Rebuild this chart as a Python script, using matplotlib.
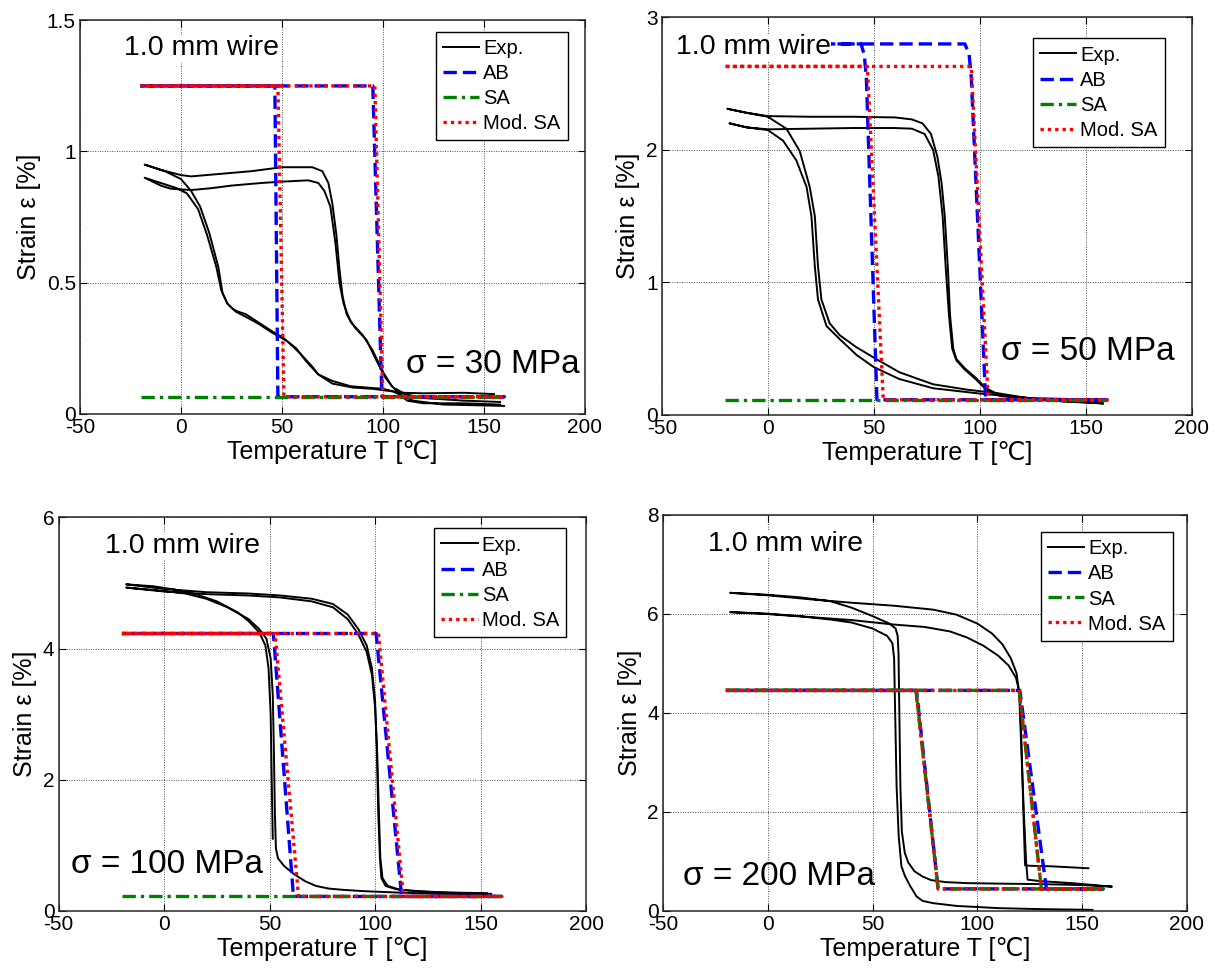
import matplotlib
matplotlib.use("Agg")
import matplotlib.pyplot as plt

plt.rcParams['font.family'] = ['Liberation Sans', 'DejaVu Sans']

# ---------------- sigma = 30 MPa ----------------
t30_ab = [-20, 95, 99.5, 160, 48, 46.5, -20]
e30_ab = [1.25, 1.25, 0.065, 0.065, 0.065, 1.25, 1.25]
t30_sa = [-20, 160]
e30_sa = [0.065, 0.065]
t30_msa = [-20, 96, 100, 160, 51, 48, -20]
e30_msa = [1.25, 1.25, 0.065, 0.065, 0.065, 1.25, 1.25]

t30_exp1 = [158, 140, 120, 108, 100, 92, 84, 75, 68, 65, 59, 55, 50.6, 45, 42, 38, 32, 28, 25.6, 23, 20.6,
            18.5, 14, 9.5, 5, 0, -8, -18,
            -10, 0, 5, 20, 35, 50, 65, 70, 73, 75, 77, 78.5, 80, 82, 86, 92, 97, 101, 105, 110, 120, 140, 155]
e30_exp1 = [0.045, 0.05, 0.06, 0.08, 0.095, 0.10, 0.105, 0.125, 0.15, 0.18, 0.23, 0.26, 0.29, 0.315, 0.33, 0.35, 0.38, 0.39, 0.40, 0.42, 0.46,
            0.56, 0.69, 0.79, 0.85, 0.895, 0.925, 0.95,
            0.93, 0.91, 0.905, 0.915, 0.925, 0.94, 0.94, 0.925, 0.88, 0.80, 0.68, 0.55, 0.45, 0.38, 0.33, 0.28, 0.20, 0.14, 0.10, 0.08, 0.078, 0.08, 0.075]
t30_exp2 = [160, 130, 115, 105, 95, 85, 75, 68, 62, 57, 52, 45, 38, 32, 27, 23, 20, 17.5, 13, 8.5, 3, -2, -10, -18,
            -10, -5, 5, 15, 25, 40, 50, 63, 68, 71, 74, 76.5, 78.5, 80.5, 84, 90, 95, 100, 104, 108, 112, 120, 140, 158]
e30_exp2 = [0.03, 0.035, 0.05, 0.085, 0.095, 0.10, 0.115, 0.15, 0.20, 0.25, 0.28, 0.31, 0.345, 0.37, 0.39, 0.42, 0.47, 0.56, 0.68, 0.78, 0.84, 0.86, 0.88, 0.90,
            0.87, 0.858, 0.853, 0.86, 0.87, 0.88, 0.885, 0.89, 0.88, 0.85, 0.79, 0.65, 0.50, 0.42, 0.35, 0.30, 0.24, 0.16, 0.11, 0.075, 0.05, 0.04, 0.04, 0.035]

# ---------------- sigma = 50 MPa ----------------
t50_ab = [-20, 93, 95, 96, 102.8, 160, 51.5, 46.5, 45.5, 44, -20]
e50_ab = [2.8, 2.8, 2.72, 2.55, 0.113, 0.113, 0.113, 2.55, 2.72, 2.8, 2.8]
t50_sa = [-20, 160]
e50_sa = [0.113, 0.113]
t50_msa = [-20, 96, 104, 160, 54.5, 47, -20]
e50_msa = [2.63, 2.63, 0.113, 0.113, 0.113, 2.63, 2.63]

t50_exp1 = [157, 140, 125, 109.4, 93.7, 78, 62.2, 51.2, 41.8, 34, 29.2, 25.3, 23.7, 22.2, 19.8, 15.1, 8.8, 0, -10, -19,
            -10, 0, 20, 40, 60, 68, 73, 77, 80, 82, 83.5, 85, 86, 87.5, 89, 93, 98, 103, 108, 115, 125, 140, 157]
e50_exp1 = [0.09, 0.10, 0.12, 0.16, 0.19, 0.23, 0.32, 0.42, 0.51, 0.60, 0.69, 0.87, 1.12, 1.50, 1.72, 1.99, 2.16, 2.25, 2.28, 2.31,
            2.28, 2.255, 2.25, 2.25, 2.245, 2.23, 2.20, 2.12, 1.95, 1.75, 1.50, 1.10, 0.75, 0.50, 0.42, 0.35, 0.28, 0.20, 0.16, 0.135, 0.125, 0.12, 0.10]
t50_exp2 = [158, 140, 120, 100, 78, 62, 50, 42, 34, 27.7, 23.7, 22.2, 20.6, 18.3, 13.5, 7.2, 0, -10, -18,
            -10, 0, 20, 40, 60, 68, 74, 78, 80.5, 82.5, 84, 85.5, 87, 89, 93, 98, 103, 110, 125, 140, 158]
e50_exp2 = [0.085, 0.10, 0.13, 0.16, 0.20, 0.27, 0.36, 0.45, 0.57, 0.67, 0.87, 1.12, 1.50, 1.72, 1.92, 2.07, 2.15, 2.17, 2.20,
            2.17, 2.155, 2.16, 2.165, 2.165, 2.16, 2.12, 2.0, 1.8, 1.5, 1.1, 0.75, 0.5, 0.41, 0.34, 0.27, 0.19, 0.14, 0.12, 0.11, 0.085]

# ---------------- sigma = 100 MPa ----------------
t100_ab = [-20, 100.5, 112.6, 160, 61.3, 51.8, -20]
e100_ab = [4.23, 4.23, 0.22, 0.22, 0.22, 4.23, 4.23]
t100_sa = [-20, 160]
e100_sa = [0.22, 0.22]
t100_msa = [-20, 101.6, 113.4, 160, 63.7, 52.6, -20]
e100_msa = [4.23, 4.23, 0.22, 0.22, 0.22, 4.23, 4.23]

t100_exp1 = [51.5, 51, 50.5, 49.5, 48, 45, 40, 35, 25, 15, 5, -5, -18,
             0, 20, 40, 55, 70, 80, 87, 92, 96, 98.5, 100, 100.8, 101.5, 102.3, 103, 105, 110, 120, 135, 153]
e100_exp1 = [1.1, 2.0, 3.0, 3.7, 4.05, 4.25, 4.42, 4.55, 4.72, 4.83, 4.9, 4.95, 4.98,
             4.91, 4.86, 4.84, 4.81, 4.76, 4.68, 4.52, 4.30, 4.05, 3.7, 3.2, 2.5, 1.5, 0.8, 0.5, 0.38, 0.33, 0.30, 0.28, 0.27]
t100_exp2 = [153, 130, 110, 95, 85, 78, 72, 67, 62, 57, 54, 53, 52.5, 52, 51.5, 50.5, 48.5, 45, 40, 30, 20, 10, 0, -18,
             0, 20, 40, 55, 70, 80, 87, 92, 96, 98.5, 100, 101, 101.8, 102.5, 103.5, 106, 112, 125, 140, 155]
e100_exp2 = [0.25, 0.26, 0.28, 0.30, 0.32, 0.34, 0.38, 0.45, 0.55, 0.68, 0.80, 0.95, 1.5, 2.5, 3.3, 3.85, 4.15, 4.30, 4.45, 4.63, 4.76, 4.84, 4.88, 4.93,
             4.87, 4.83, 4.81, 4.78, 4.72, 4.63, 4.45, 4.22, 3.95, 3.6, 3.1, 2.4, 1.5, 0.8, 0.5, 0.38, 0.32, 0.29, 0.27, 0.26]

# ---------------- sigma = 200 MPa ----------------
t200_ab = [-20, 120.3, 133, 160, 81.3, 71, -20]
e200_ab = [4.45, 4.45, 0.444, 0.444, 0.444, 4.45, 4.45]
t200_sa = [-20, 120, 130.6, 160, 81.3, 70.7, -20]
e200_sa = [4.45, 4.45, 0.444, 0.444, 0.444, 4.45, 4.45]
t200_msa = [-20, 120, 130.6, 160, 81.3, 70.7, -20]
e200_msa = [4.45, 4.45, 0.444, 0.444, 0.444, 4.45, 4.45]

t200_exp1 = [164, 150, 130, 110, 95, 85, 78, 74, 70, 67, 65.4, 64, 63.3, 62.8, 62.4, 62, 61, 58, 50, 40, 30, 15, 0, -18,
             0, 20, 40, 60, 79, 90, 100, 107, 112, 116, 118.7, 120, 121, 122.2, 123.3, 124, 130, 145, 164]
e200_exp1 = [0.49, 0.52, 0.54, 0.55, 0.56, 0.58, 0.62, 0.69, 0.80, 0.98, 1.17, 1.6, 2.5, 4.0, 5.2, 5.55, 5.70, 5.80, 5.95, 6.12, 6.25, 6.33, 6.38, 6.42,
             6.37, 6.29, 6.22, 6.16, 6.08, 5.98, 5.80, 5.60, 5.38, 5.10, 4.80, 4.40, 3.30, 2.0, 1.0, 0.63, 0.60, 0.56, 0.49]
t200_exp2 = [155, 130, 110, 90, 79, 74, 71, 68, 65.5, 63.8, 62.5, 61.5, 60.8, 60.3, 59.5, 57, 50, 40, 30, 15, 0, -18,
             0, 20, 40, 60, 75, 87, 95, 103, 110, 115, 118.5, 120.2, 121, 122, 122.8, 125, 135, 153]
e200_exp2 = [0.02, 0.035, 0.055, 0.10, 0.155, 0.20, 0.29, 0.50, 0.70, 0.90, 1.5, 2.5, 4.0, 5.1, 5.40, 5.55, 5.70, 5.82, 5.88, 5.95, 6.0, 6.03,
             5.99, 5.93, 5.87, 5.78, 5.73, 5.64, 5.52, 5.35, 5.15, 4.95, 4.70, 4.40, 3.5, 2.0, 0.92, 0.91, 0.90, 0.86]

xticks = [-50, 0, 50, 100, 150, 200]

panels = [
    dict(rect=[0.0655, 0.573, 0.4135, 0.406], ylim=1.5, yticks=[0, 0.5, 1, 1.5], yticklabels=['0', '0.5', '1', '1.5'],
         exp=[(t30_exp1, e30_exp1), (t30_exp2, e30_exp2)],
         ab=(t30_ab, e30_ab), sa=(t30_sa, e30_sa), msa=(t30_msa, e30_msa),
         wire=(-28.2, 1.393), sig=(111.4, 0.187), sigtext='σ = 30 MPa', leg=(0.966, 0.970)),
    dict(rect=[0.542, 0.572, 0.434, 0.410], ylim=3, yticks=[0, 1, 2, 3], yticklabels=['0', '1', '2', '3'],
         exp=[(t50_exp1, e50_exp1), (t50_exp2, e50_exp2)],
         ab=(t50_ab, e50_ab), sa=(t50_sa, e50_sa), msa=(t50_msa, e50_msa),
         wire=(-43.4, 2.774), sig=(110.2, 0.477), sigtext='σ = 50 MPa', leg=(0.949, 0.947)),
    dict(rect=[0.048, 0.060, 0.432, 0.406], ylim=6, yticks=[0, 2, 4, 6], yticklabels=['0', '2', '4', '6'],
         exp=[(t100_exp1, e100_exp1), (t100_exp2, e100_exp2)],
         ab=(t100_ab, e100_ab), sa=(t100_sa, e100_sa), msa=(t100_msa, e100_msa),
         wire=(-28.0, 5.57), sig=(-44.2, 0.70), sigtext='σ = 100 MPa', leg=(0.962, 0.972)),
    dict(rect=[0.543, 0.060, 0.429, 0.409], ylim=8, yticks=[0, 2, 4, 6, 8], yticklabels=['0', '2', '4', '6', '8'],
         exp=[(t200_exp1, e200_exp1), (t200_exp2, e200_exp2)],
         ab=(t200_ab, e200_ab), sa=(t200_sa, e200_sa), msa=(t200_msa, e200_msa),
         wire=(-28.6, 7.41), sig=(-40.6, 0.687), sigtext='σ = 200 MPa', leg=(0.973, 0.955)),
]

fig = plt.figure(figsize=(12.21, 9.69), dpi=100)

for p in panels:
    ax = fig.add_axes(p['rect'])
    h_exp = None
    for t, e in p['exp']:
        h_exp, = ax.plot(t, e, color='k', lw=1.4)
    h_ab, = ax.plot(*p['ab'], color=(0, 0, 1), lw=2.4, linestyle=(0, (4, 1.8)))
    h_sa, = ax.plot(*p['sa'], color=(0, 0.5, 0), lw=2.4, linestyle=(0, (4, 1.5, 1, 1.5)))
    h_msa, = ax.plot(*p['msa'], color=(1, 0, 0), lw=2.4, linestyle=(0, (1, 1.2)))

    ax.set_xlim(-50, 200)
    ax.set_ylim(0, p['ylim'])
    ax.set_xticks(xticks)
    ax.set_xticklabels([str(v) for v in xticks])
    ax.set_yticks(p['yticks'])
    ax.set_yticklabels(p['yticklabels'])
    ax.tick_params(direction='in', top=True, right=True, length=5, width=0.8, labelsize=15, pad=3)
    ax.grid(True, color='0.3', linestyle=(0, (1, 1.5)), lw=0.7)
    for s in ax.spines.values():
        s.set_linewidth(1.1)
        s.set_color('0.15')
    ax.set_xlabel('Temperature T [℃]', fontsize=18, labelpad=2)
    ax.set_ylabel('Strain ε [%]', fontsize=18, labelpad=4)

    ax.text(p['wire'][0], p['wire'][1], '1.0 mm wire', fontsize=20.5, ha='left', va='center',
            bbox=dict(facecolor='white', edgecolor='none', pad=0.5), zorder=5)
    ax.text(p['sig'][0], p['sig'][1], p['sigtext'], fontsize=24, ha='left', va='center', zorder=5)

    leg = ax.legend([h_exp, h_ab, h_sa, h_msa], ['Exp.', 'AB', 'SA', 'Mod. SA'],
                    loc='upper right', bbox_to_anchor=p['leg'], fontsize=14.5,
                    fancybox=False, framealpha=1, edgecolor='k', handlelength=1.8,
                    handletextpad=0.2, labelspacing=0.3, borderpad=0.35, borderaxespad=0)
    leg.get_frame().set_linewidth(1.0)

fig.savefig('out.png', dpi=100)
